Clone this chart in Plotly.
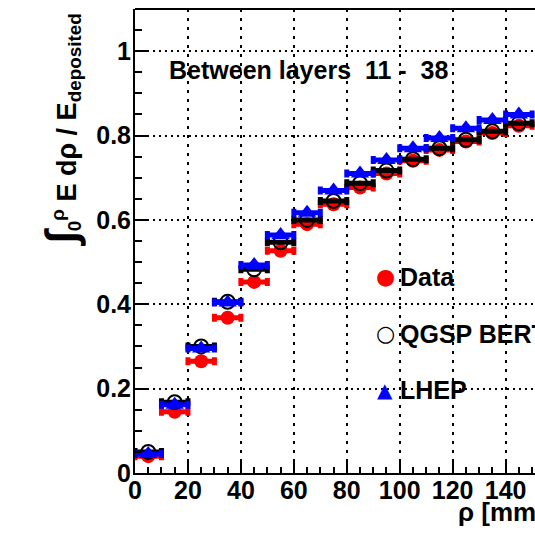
import plotly.graph_objects as go

rho = [5, 15, 25, 35, 45, 55, 65, 75, 85, 95, 105, 115, 125, 135, 145]
rho_halfwidth = [5] * len(rho)
data_vals = [0.040, 0.145, 0.265, 0.368, 0.453, 0.527, 0.590, 0.637, 0.677, 0.710, 0.740, 0.766, 0.786, 0.806, 0.823]
qgsp_vals = [0.050, 0.168, 0.300, 0.406, 0.483, 0.547, 0.600, 0.645, 0.687, 0.717, 0.744, 0.770, 0.790, 0.810, 0.829]
lhep_vals = [0.045, 0.162, 0.295, 0.404, 0.493, 0.564, 0.617, 0.670, 0.710, 0.742, 0.770, 0.794, 0.817, 0.837, 0.850]
series_names = ["Data", "QGSP BERT", "LHEP"]

FONT = "Liberation Sans, Arial, sans-serif"

W, H = 535, 537
L, R, T, B = 134.5, 0, 9, 63.5
pw = W - L - R
ph = H - T - B

fig = go.Figure()

def add_series(name, y, marker, bar_color):
    fig.add_trace(go.Scatter(
        x=rho, y=y, mode="markers", name=name, showlegend=False,
        marker=marker,
        error_x=dict(type="data", array=rho_halfwidth, color=bar_color,
                     thickness=5, width=4),
    ))

add_series(series_names[0], data_vals, dict(color="red", symbol="circle", size=14, line=dict(width=0)), "red")
add_series(series_names[1], qgsp_vals, dict(color="black", symbol="circle-open", size=14, line=dict(color="black", width=2)), "black")
add_series(series_names[2], lhep_vals, dict(color="blue", symbol="triangle-up", size=16, line=dict(width=0)), "blue")

fig.update_layout(
    width=W, height=H,
    margin=dict(l=L, r=R, t=T, b=B, pad=0, autoexpand=False),
    paper_bgcolor="white", plot_bgcolor="white",
    font=dict(family=FONT, size=25, color="black"),
    showlegend=False,
)

fig.update_xaxes(
    range=[0, 151.1], showline=True, linecolor="black", linewidth=2,
    ticks="inside", ticklen=13, tickwidth=2, tickcolor="black",
    tickvals=[0, 20, 40, 60, 80, 100, 120, 140],
    ticktext=["0", "20", "40", "60", "80", "100", "120", "140"],
    tickangle=0, ticklabelstandoff=-6,
    tickfont=dict(family=FONT, size=25, color="black", weight="bold"),
    minor=dict(ticks="inside", ticklen=6, tickwidth=2, tickcolor="black", dtick=5, tick0=0, showgrid=False),
    showgrid=True, gridcolor="black", gridwidth=2, griddash="3px,6px",
    zeroline=False, fixedrange=True, automargin=False,
)
fig.update_yaxes(
    range=[0, 1.1], showline=True, linecolor="black", linewidth=2,
    ticks="inside", ticklen=14, tickwidth=2, tickcolor="black",
    tickvals=[0, 0.2, 0.4, 0.6, 0.8, 1.0],
    ticktext=["0", "0.2", "0.4", "0.6", "0.8", "1"],
    tickfont=dict(family=FONT, size=25, color="black", weight="bold"),
    ticklabelstandoff=-3,
    minor=dict(ticks="inside", ticklen=7, tickwidth=2, tickcolor="black", dtick=0.05, tick0=0, showgrid=False),
    showgrid=True, gridcolor="black", gridwidth=2, griddash="2px,4px",
    zeroline=False, fixedrange=True, automargin=False,
)

# top frame line
fig.add_shape(type="line", xref="paper", yref="paper", x0=0, x1=1, y0=1, y1=1,
              line=dict(color="black", width=2))

fig.add_annotation(
    text="Between layers  11 -  38", xref="paper", yref="paper",
    x=(167 - L) / pw, y=(473.5 - 70) / ph, xanchor="left", yanchor="middle",
    showarrow=False, font=dict(family=FONT, size=25, color="black", weight="bold"),
)
fig.add_annotation(
    text="<span style='font-size:44px'>∫</span><sub>0</sub><sup>ρ</sup> E dρ / E<sub>deposited</sub>",
    xref="paper", yref="paper", x=0, xshift=60 - L, y=(473.5 - 130) / ph,
    xanchor="center", yanchor="middle", textangle=-90, showarrow=False,
    font=dict(family=FONT, size=27, color="black", weight="bold"),
)
fig.add_annotation(
    text="ρ [mm]", xref="paper", yref="paper",
    x=(456 - L) / pw, y=(473.5 - 513) / ph, xanchor="left", yanchor="middle",
    showarrow=False, font=dict(family=FONT, size=26, color="black", weight="bold"),
)

# legend (symbol + label as text)
leg_symbols = ["●", "○", "▲"]
leg_colors = ["red", "black", "blue"]
leg_sizes = [22, 22, 20]
leg_y = [277, 334, 390]
for name, sym, col, sz, yy in zip(series_names, leg_symbols, leg_colors, leg_sizes, leg_y):
    fig.add_annotation(text=sym, xref="paper", yref="paper",
                       x=(385 - L) / pw, y=(473.5 - yy) / ph, xanchor="center", yanchor="middle",
                       showarrow=False, font=dict(family="DejaVu Sans", size=sz, color=col))
    fig.add_annotation(text=name, xref="paper", yref="paper",
                       x=(398 - L) / pw, y=(473.5 - yy) / ph, xanchor="left", yanchor="middle",
                       showarrow=False, font=dict(family=FONT, size=25, color="black", weight="bold"))

fig.write_html("out.html")
